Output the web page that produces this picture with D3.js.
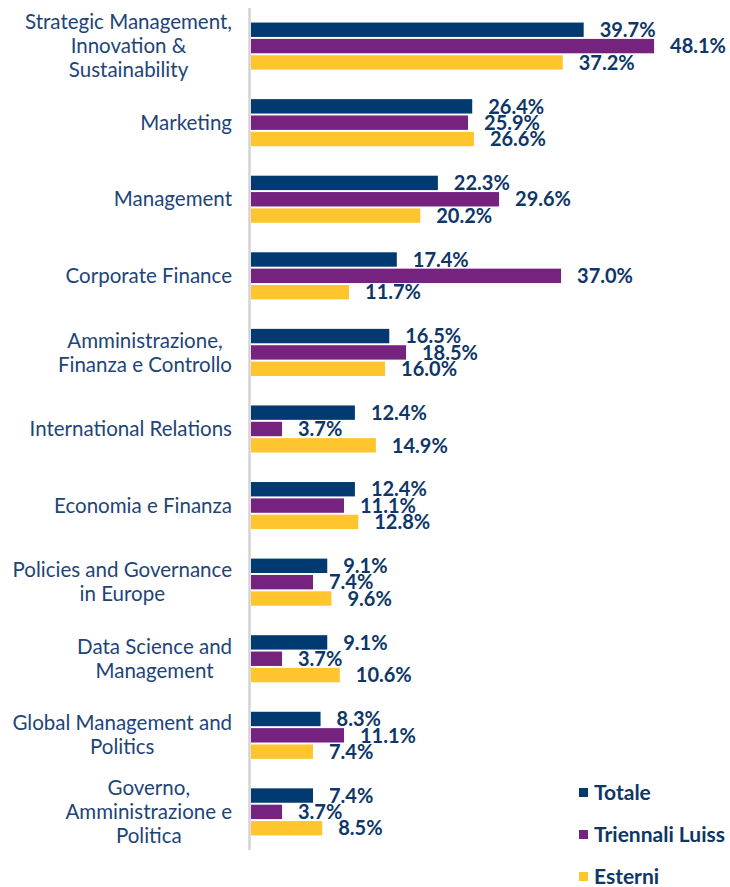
<!DOCTYPE html>
<html lang="it">
<head>
    <meta charset="UTF-8">
    <title>Grouped bar chart</title>
    <style>
        body { margin: 0; background: #fff; }
        svg { display: block; }
        .cat { font-family: Lato, "Open Sans", sans-serif; font-size: 20.5px; fill: #1d4577; }
        .val { font-family: Lato, "Open Sans", sans-serif; font-size: 20px; font-weight: 700; fill: #0e3666; }
        .leg { font-family: Lato, "Open Sans", sans-serif; font-size: 21px; font-weight: 700; fill: #0e3666; }
    </style>
</head>
<body>
    <svg id="chart"></svg>

    <script src="https://d3js.org/d3.v7.min.js"></script>
    <script>
        // data
        const categories = [
            ["Strategic Management,", "Innovation &", "Sustainability"],
            ["Marketing"],
            ["Management"],
            ["Corporate Finance"],
            ["Amministrazione,", "Finanza e Controllo"],
            ["International Relations"],
            ["Economia e Finanza"],
            ["Policies and Governance", "in Europe"],
            ["Data Science and", "Management"],
            ["Global Management and", "Politics"],
            ["Governo,", "Amministrazione e", "Politica"]
        ];
        const seriesNames = ["Totale", "Triennali Luiss", "Esterni"];
        const totale = [39.7, 26.4, 22.3, 17.4, 16.5, 12.4, 12.4, 9.1, 9.1, 8.3, 7.4];
        const triennali = [48.1, 25.9, 29.6, 37.0, 18.5, 3.7, 11.1, 7.4, 3.7, 11.1, 3.7];
        const esterni = [37.2, 26.6, 20.2, 11.7, 16.0, 14.9, 12.8, 9.6, 10.6, 7.4, 8.5];
        const colors = ["#003a70", "#76237f", "#ffc52f"];

        const w = 730, h = 887;
        const svg = d3.select("#chart").attr("width", w).attr("height", h);

        const keys = categories.map((c, i) => i);
        const values = [totale, triennali, esterni];

        const x = d3.scaleLinear().domain([0, 50]).range([251, 670]);
        const y = d3.scaleBand().domain(keys).range([8, 850]).paddingInner(0.385).paddingOuter(0.19);
        const ySub = d3.scaleBand().domain(seriesNames).range([0, y.bandwidth()]).paddingInner(0.12);

        // vertical axis line
        svg.append("line")
            .attr("x1", 249.5).attr("x2", 249.5)
            .attr("y1", 8).attr("y2", 850)
            .attr("stroke", "#d3d3d3").attr("stroke-width", 2.5);

        // category labels: lines centred in a block whose right edge sits at 232
        const catG = svg.append("g");
        const labelRight = 232;
        categories.forEach((lines, i) => {
            const cy = y(i) + y.bandwidth() / 2;
            const t = catG.append("text").attr("class", "cat")
                .attr("text-anchor", "middle")
                .attr("y", cy - (lines.length - 1) * 12);
            const spans = lines.map((l, j) =>
                t.append("tspan").attr("dy", j === 0 ? "0.35em" : 24).text(l));
            const maxW = d3.max(spans, sp => sp.node().getComputedTextLength());
            spans.forEach(sp => sp.attr("x", labelRight - maxW / 2));
        });

        // bars + value labels
        const fmt = d3.format(".1f");
        seriesNames.forEach((s, si) => {
            const g = svg.append("g");
            g.selectAll("rect")
                .data(values[si])
                .enter()
                .append("rect")
                .attr("x", x(0))
                .attr("y", (d, i) => y(i) + ySub(s))
                .attr("width", d => x(d) - x(0))
                .attr("height", ySub.bandwidth())
                .attr("fill", colors[si]);

            g.selectAll("text")
                .data(values[si])
                .enter()
                .append("text")
                .attr("class", "val")
                .attr("x", d => x(d) + 16)
                .attr("y", (d, i) => y(i) + ySub(s) + ySub.bandwidth() / 2)
                .attr("dy", "0.36em")
                .text(d => fmt(d) + "%");
        });

        // legend
        const leg = svg.append("g");
        seriesNames.forEach((s, i) => {
            const ly = 793 + i * 42;
            leg.append("rect")
                .attr("x", 579).attr("y", ly - 5)
                .attr("width", 9).attr("height", 9)
                .attr("fill", colors[i]);
            leg.append("text").attr("class", "leg")
                .attr("x", 594).attr("y", ly)
                .attr("dy", "0.35em")
                .text(s);
        });
    </script>
</body>
</html>
